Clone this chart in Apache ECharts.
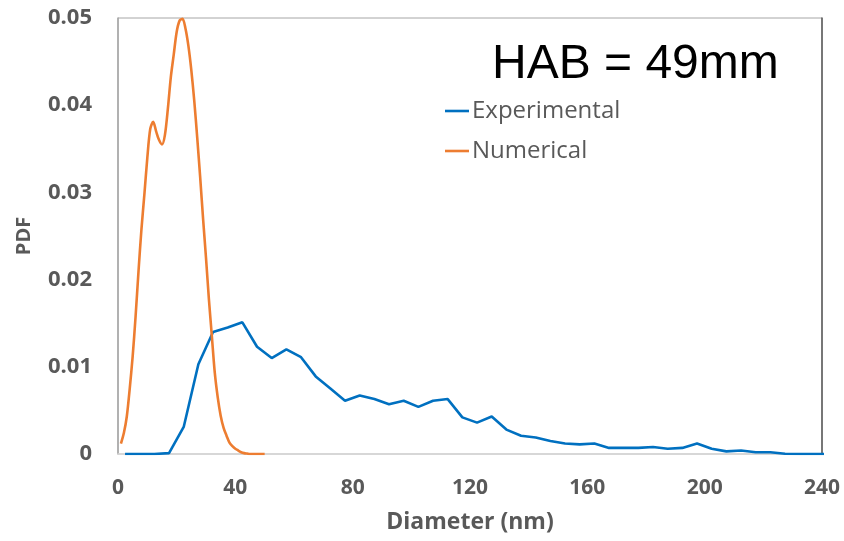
<!DOCTYPE html>
<html>
<head>
<meta charset="utf-8">
<script src="https://cdn.jsdelivr.net/npm/echarts@6/dist/echarts.min.js"></script>
<style>
  html, body { margin: 0; padding: 0; background: #ffffff; }
  #chart { width: 844px; height: 541px; }
</style>
</head>
<body>
<div id="chart"></div>
<script>
// Particle size distribution at HAB = 49 mm

// Experimental PDF, diameters in nm
const expDiameter = [
  2.4, 7.4, 12.4, 17.4, 22.4, 27.4, 32.4, 37.4, 42.4, 47.4,
  52.4, 57.4, 62.4, 67.4, 72.4, 77.4, 82.4, 87.4, 92.4, 97.4,
  102.4, 107.4, 112.4, 117.4, 122.4, 127.4, 132.4, 137.4, 142.4, 147.4,
  152.4, 157.4, 162.4, 167.4, 172.4, 177.4, 182.4, 187.4, 192.4, 197.4,
  202.4, 207.4, 212.4, 217.4, 222.4, 227.4, 232.4, 237.4, 242.4
];
const expPdf = [
  0, 0, 0, 0.0001, 0.0031, 0.0103, 0.0140, 0.0145, 0.0151, 0.0123,
  0.0110, 0.0120, 0.0111, 0.0089, 0.0075, 0.0061, 0.0067, 0.0063, 0.0057, 0.0061,
  0.0054, 0.0061, 0.0063, 0.0042, 0.0036, 0.0043, 0.0028, 0.0021, 0.0019, 0.0015,
  0.0012, 0.0011, 0.0012, 0.0007, 0.0007, 0.0007, 0.0008, 0.0006, 0.0007, 0.0012,
  0.0006, 0.0003, 0.0004, 0.0002, 0.0002, 0.00003, 0, 0, 0
];

// Numerical PDF, diameters in nm
const numDiameter = [
  1, 2, 3, 4, 5, 6, 7, 8, 9, 10,
  11, 12, 13, 14, 15, 16, 17, 18, 19, 20,
  21, 22, 23, 24, 25, 26, 27, 28, 29, 30,
  31, 32, 33, 34, 35, 36, 37, 38, 39, 40,
  41, 42, 43, 44, 45, 46, 47, 48, 49, 50
];
const numPdf = [
  0.0012, 0.0024, 0.0043, 0.0075, 0.0112, 0.0158, 0.0210, 0.0258, 0.0298, 0.0340,
  0.0373, 0.0381, 0.0370, 0.0360, 0.0355, 0.0366, 0.0396, 0.0432, 0.0458, 0.0484,
  0.0497, 0.0499, 0.0488, 0.0468, 0.0440, 0.0405, 0.0363, 0.0318, 0.0270, 0.0225,
  0.0177, 0.0135, 0.0093, 0.0065, 0.0044, 0.0030, 0.0021, 0.0013, 0.0009, 0.0006,
  0.0004, 0.0002, 0.0001, 0.00005, 0, 0, 0, 0, 0, 0
];

const xTicks = [0, 40, 80, 120, 160, 200, 240];
const yTicks = [0, 0.01, 0.02, 0.03, 0.04, 0.05];

const pairs = (xs, ys) => xs.map((x, i) => [x, ys[i]]);

const boldGrey = { fontFamily: 'Open Sans', fontWeight: 'bold', color: '#595959' };

const chart = echarts.init(document.getElementById('chart'), null, { renderer: 'canvas' });
chart.setOption({
  animation: false,
  backgroundColor: '#ffffff',
  grid: { left: 118, top: 18, right: 22, bottom: 87, show: true, borderColor: '#a6a6a6', borderWidth: 1 },
  title: {
    text: 'HAB = 49mm',
    left: 487,
    top: 36,
    padding: 5,
    textStyle: { fontFamily: 'Liberation Sans', fontWeight: 'normal', fontSize: 48, color: '#000000' }
  },
  legend: {
    orient: 'vertical',
    left: 445,
    top: 99,
    padding: 0,
    icon: 'rect',
    itemWidth: 24,
    itemHeight: 2.6,
    itemGap: 16,
    textStyle: { fontFamily: 'Open Sans', fontSize: 24, color: '#595959', padding: [0, 0, 0, -2] },
    data: ['Experimental', 'Numerical']
  },
  xAxis: [{
    type: 'value',
    min: 0,
    max: 240,
    interval: 40,
    name: 'Diameter (nm)',
    nameLocation: 'middle',
    nameGap: 57,
    nameTextStyle: Object.assign({ fontSize: 23 }, boldGrey),
    axisLine: { show: true, lineStyle: { color: '#d9d9d9', width: 1.5 } },
    axisTick: { show: false },
    splitLine: { show: false },
    axisLabel: Object.assign({ fontSize: 21, margin: 24, formatter: v => (xTicks.includes(v) ? String(v) : '') }, boldGrey)
  }],
  yAxis: [{
    type: 'value',
    min: 0,
    max: 0.05,
    interval: 0.01,
    name: 'PDF',
    nameLocation: 'middle',
    nameGap: 84,
    nameTextStyle: Object.assign({ fontSize: 20 }, boldGrey),
    axisLine: { show: true, lineStyle: { color: '#a6a6a6', width: 1.5 } },
    axisTick: { show: false },
    splitLine: { show: false },
    axisLabel: Object.assign({ fontSize: 22, margin: 26, formatter: v => (yTicks.some(t => Math.abs(t - v) < 1e-9) ? (v === 0 ? '0' : v.toFixed(2)) : '') }, boldGrey)
  }, {
    type: 'value',
    position: 'right',
    min: 0,
    max: 0.05,
    interval: 0.01,
    axisLine: { show: true, lineStyle: { color: '#595959', width: 1.5 } },
    axisTick: { show: false },
    axisLabel: { show: false },
    splitLine: { show: false }
  }],
  series: [
    {
      name: 'Experimental',
      type: 'line',
      symbol: 'none',
      clip: true,
      data: pairs(expDiameter, expPdf),
      lineStyle: { color: '#0070c0', width: 2.6 },
      itemStyle: { color: '#0070c0' }
    },
    {
      name: 'Numerical',
      type: 'line',
      symbol: 'none',
      smooth: 0.3,
      clip: true,
      data: pairs(numDiameter, numPdf),
      lineStyle: { color: '#ed7d31', width: 2.6 },
      itemStyle: { color: '#ed7d31' }
    }
  ]
});
</script>
</body>
</html>
